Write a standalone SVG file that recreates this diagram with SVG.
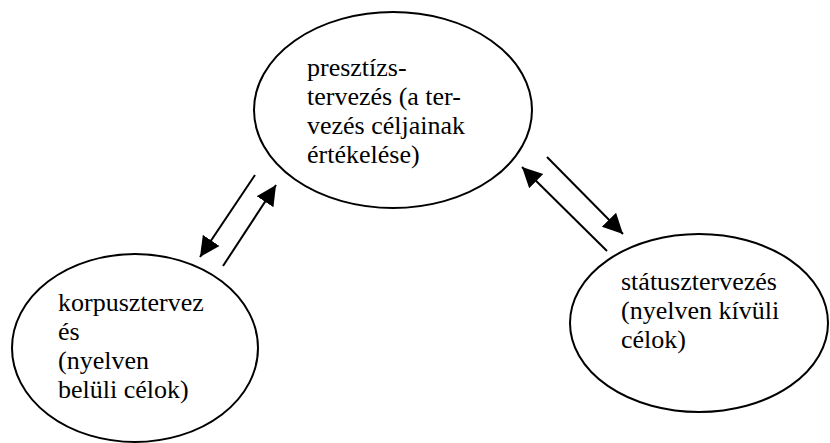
<svg xmlns="http://www.w3.org/2000/svg" width="830" height="443" viewBox="0 0 830 443">
<defs>
<marker id="ah" markerUnits="userSpaceOnUse" markerWidth="22" markerHeight="22" refX="20" refY="10" orient="auto" viewBox="0 0 22 20">
<path d="M0,0 L20,10 L0,20 Z" fill="#000"/>
</marker>
</defs>
<rect width="830" height="443" fill="#fff"/>
<g id="n-preszt" font-family="Times New Roman, Liberation Serif, serif" font-size="26">
<ellipse cx="393" cy="110" rx="139" ry="98" fill="#fff" stroke="#000" stroke-width="2"/>
<text x="307" y="76">presztízs-</text>
<text x="307" y="105">tervezés (a ter-</text>
<text x="307" y="134">vezés céljainak</text>
<text x="307" y="163">értékelése)</text>
</g>
<g id="n-korpusz" font-family="Times New Roman, Liberation Serif, serif" font-size="26">
<ellipse cx="135" cy="348" rx="123" ry="94" fill="#fff" stroke="#000" stroke-width="2"/>
<text x="58" y="311">korpusztervez</text>
<text x="58" y="340">és</text>
<text x="58" y="369">(nyelven</text>
<text x="58" y="398">belüli célok)</text>
</g>
<g id="n-statusz" font-family="Times New Roman, Liberation Serif, serif" font-size="26">
<ellipse cx="699" cy="323" rx="129" ry="89" fill="#fff" stroke="#000" stroke-width="2"/>
<text x="621" y="290">státusztervezés</text>
<text x="621" y="319">(nyelven kívüli</text>
<text x="621" y="348">célok)</text>
</g>
<g id="connectors" stroke="#000" stroke-width="2" fill="none" marker-end="url(#ah)">
<line x1="255" y1="175" x2="200" y2="257"/>
<line x1="223" y1="266" x2="276" y2="185"/>
<line x1="547" y1="157" x2="623" y2="234"/>
<line x1="607" y1="251" x2="522" y2="167"/>
</g>
</svg>
